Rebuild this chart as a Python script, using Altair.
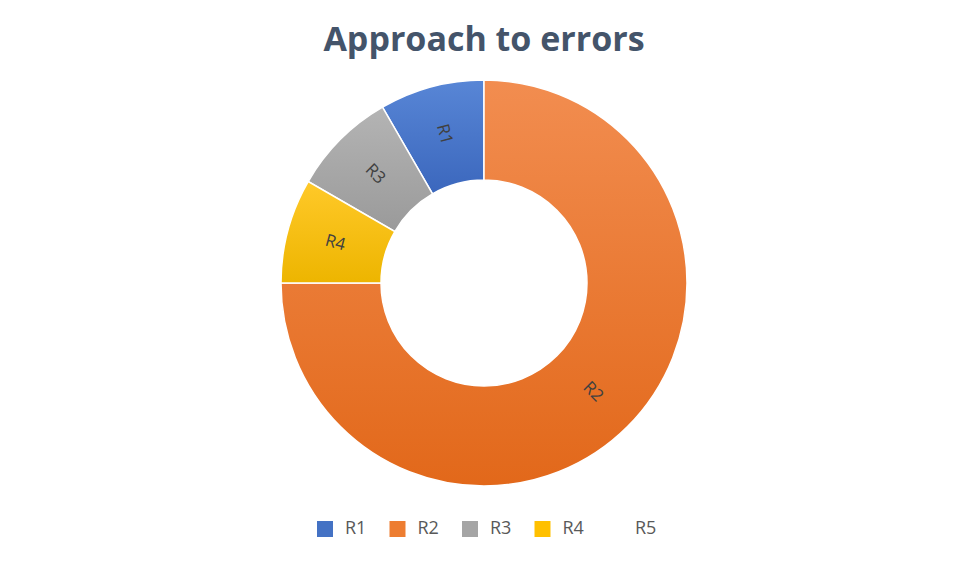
import altair as alt
import pandas as pd

# ---- data ----
categories = ["R1", "R2", "R3", "R4", "R5"]
values = [1, 9, 1, 1, 0]
draw_order = [4, 1, 3, 2, 5]   # clockwise sequence starting at 12 o'clock

# ---- styles ----
base_colors = ["#4472C4", "#ED7D31", "#A5A5A5", "#FFC000", "#FFFFFF"]
grad_top = ["#5886D6", "#F28D50", "#B4B4B4", "#FFC929"]
grad_bottom = ["#3B67BD", "#E2681A", "#9A9A9A", "#EDB500"]
FONT = "Open Sans"

df = pd.DataFrame({"cat": categories, "value": values, "ord": draw_order})

base = alt.Chart(df).transform_joinaggregate(
    total="sum(value)"
).transform_window(
    cum="sum(value)", sort=[alt.SortField("ord", order="ascending")]
).transform_calculate(
    start="(datum.cum - datum.value) / datum.total",
    end="datum.cum / datum.total",
    mid="(datum.cum - datum.value / 2) / datum.total * 360",
).transform_calculate(
    ang="datum.mid > 180 ? datum.mid - 270 : datum.mid - 90"
)

theta_scale = alt.Scale(domain=[0, 1])
OUTER, INNER = 203, 103

solid = base.mark_arc(outerRadius=OUTER, innerRadius=INNER, stroke="white", strokeWidth=1.5).encode(
    theta=alt.Theta("start:Q", scale=theta_scale),
    theta2="end:Q",
    color=alt.Color(
        "cat:N",
        scale=alt.Scale(domain=categories, range=base_colors),
        legend=alt.Legend(
            title=None,
            orient="none",
            direction="horizontal",
            columns=5,
            legendX=294,
            legendY=456,
            symbolType="square",
            symbolSize=256,
            symbolStrokeWidth=0,
            labelFont=FONT,
            labelFontSize=18,
            labelColor="#595959",
            labelOffset=11,
            labelLimit=0,
            columnPadding=21.5,
        ),
    ),
)

layers = [solid]
for i, c in enumerate(categories[:4]):
    grad = alt.Gradient(
        gradient="linear",
        x1=0, y1=0, x2=0, y2=1,
        stops=[alt.GradientStop(color=grad_top[i], offset=0),
               alt.GradientStop(color=grad_bottom[i], offset=1)],
    )
    layers.append(
        base.transform_filter(alt.datum.cat == c).mark_arc(
            outerRadius=OUTER, innerRadius=INNER, color=grad, stroke="white", strokeWidth=1.5
        ).encode(
            theta=alt.Theta("start:Q", scale=theta_scale),
            theta2="end:Q",
        )
    )

labels = base.transform_filter(alt.datum.value > 0).mark_text(
    radius=154, font=FONT, fontSize=17, color="#404040", align="center", baseline="middle"
).encode(
    theta=alt.Theta("mid_frac:Q", scale=theta_scale),
    angle=alt.Angle("ang:Q", scale=None),
    text="cat:N",
).transform_calculate(mid_frac="datum.mid / 360")
layers.append(labels)

chart = alt.layer(*layers).properties(
    width=924,
    height=438,
    padding={"left": 14, "top": 16, "right": 0, "bottom": 0},
    title=alt.TitleParams(
        "Approach to errors",
        anchor="middle",
        font=FONT,
        fontSize=34,
        fontWeight="bold",
        color="#44546A",
        offset=14,
        dy=8,
    ),
).configure_view(stroke=None)

chart.save("out.html", embed_options={"renderer": "svg", "actions": False})
